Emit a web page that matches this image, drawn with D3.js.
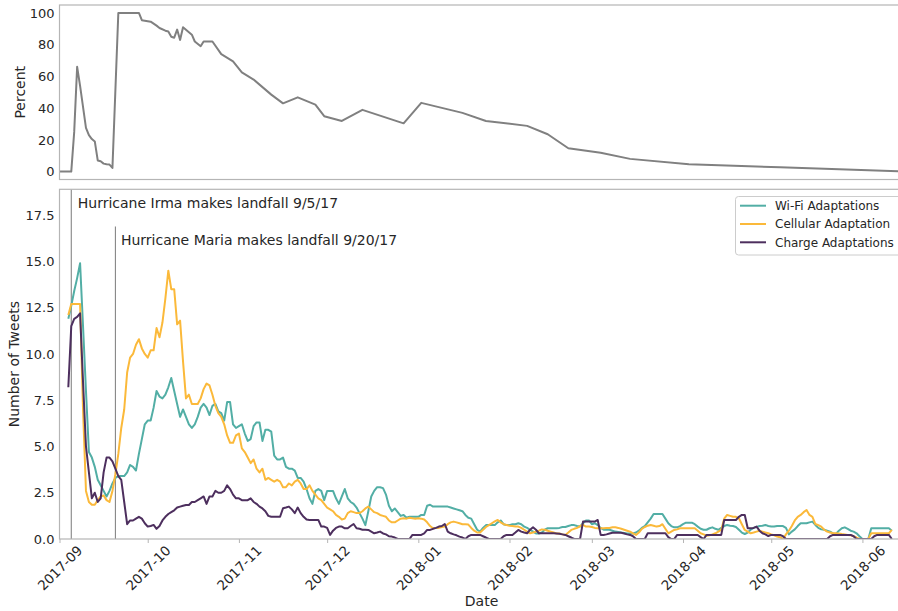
<!DOCTYPE html>
<html>
<head>
<meta charset="utf-8">
<script src="https://cdn.jsdelivr.net/npm/d3@7"></script>
<style>
  html, body { margin: 0; padding: 0; background: #fff; }
  svg { display: block; font-family: "DejaVu Sans", sans-serif; }
</style>
</head>
<body>
<svg id="chart" width="898" height="611"></svg>
<script>
// ---- Percent series (top panel) ----
const percentDates = ["2017-09-01","2017-09-05","2017-09-06","2017-09-07","2017-09-08","2017-09-10","2017-09-11","2017-09-12","2017-09-13","2017-09-14",
  "2017-09-15","2017-09-16","2017-09-17","2017-09-18","2017-09-19","2017-09-21","2017-09-28","2017-09-29","2017-10-02","2017-10-04",
  "2017-10-05","2017-10-07","2017-10-08","2017-10-09","2017-10-10","2017-10-11","2017-10-12","2017-10-13","2017-10-16","2017-10-17",
  "2017-10-19","2017-10-20","2017-10-23","2017-10-26","2017-10-30","2017-11-02","2017-11-06","2017-11-12","2017-11-16","2017-11-21",
  "2017-11-27","2017-11-30","2017-12-06","2017-12-13","2017-12-27","2018-01-02","2018-01-16","2018-01-24","2018-02-07","2018-02-14",
  "2018-02-21","2018-03-04","2018-03-14","2018-04-03","2018-05-04","2018-06-14"];
const percentValues = [0,0,25,66,54,27.5,23,20.5,19,7,
  6.5,5,4.6,4.4,2.3,100,100,95.4,94.5,92,
  90.5,88.8,88.3,85,84.4,89.5,83,91,86.3,82,
  79,82,82,74,69.5,62.5,58,48.5,43,46.8,
  42.2,34.9,31.9,38.9,30.4,43.3,37,31.9,28.8,23.5,
  14.7,11.8,8,4.6,2.7,0.1];

// ---- Daily tweet counts (bottom panel), one value per day from tweetStart ----
const tweetStart = "2017-09-04";
const wifiValues = [
  11.9, 12.6, 13.4, 14.1, 14.9, 11.5, 8.0, 4.7, 4.4, 3.9,
  3.2, 2.9, 2.6, 2.3, 2.6, 3.0, 3.3, 3.4, 3.4, 3.4,
  3.6, 4.0, 3.9, 3.7, 4.6, 5.4, 6.2, 6.4, 6.4, 7.1,
  8.0, 7.7, 7.6, 7.8, 8.2, 8.7, 8.0, 7.3, 6.6, 7.0,
  6.6, 6.2, 6.0, 6.2, 6.6, 7.1, 7.3, 7.1, 6.7, 7.2,
  7.3, 6.9, 6.8, 6.4, 7.4, 7.4, 6.2, 6.0, 6.1, 6.2,
  5.7, 5.3, 5.4, 6.1, 6.3, 6.3, 5.3, 5.9, 5.9, 5.8,
  4.5, 4.3, 4.3, 4.4, 3.9, 3.8, 3.8, 3.7, 3.3, 3.3,
  3.1, 2.7, 2.2, 1.9, 2.6, 2.7, 2.6, 2.1, 2.6, 2.6,
  2.6, 2.2, 1.9, 2.3, 2.7, 2.2, 2.0, 1.9, 1.7, 1.4,
  1.1, 0.75, 1.5, 2.3, 2.6, 2.8, 2.8, 2.75, 2.4, 1.8,
  1.5, 1.65, 1.45, 1.25, 1.3, 1.15, 1.2, 1.2, 1.2, 1.2,
  1.3, 1.3, 1.8, 1.85, 1.75, 1.75, 1.75, 1.75, 1.75, 1.75,
  1.7, 1.65, 1.6, 1.55, 1.5, 1.3, 1.15, 1.1, 0.8, 0.5,
  0.4, 0.6, 0.75, 0.75, 0.75, 0.75, 0.9, 1.0, 0.8, 0.75,
  0.75, 0.8, 0.8, 0.85, 0.8, 0.67, 0.6, 0.5, 0.4, 0.3,
  0.3, 0.35, 0.5, 0.58, 0.58, 0.58, 0.58, 0.6, 0.65, 0.65,
  0.7, 0.75, 0.75, 0.7, 0.67, 0.85, 1.0, 1.0, 0.8, 0.85,
  0.75, 0.6, 0.5, 0.5, 0.5, 0.45, 0.4, 0.38, 0.35, 0.33,
  0.3, 0.3, 0.3, 0.35, 0.45, 0.6, 0.7, 0.9, 1.1, 1.35,
  1.35, 1.35, 1.35, 1.1, 0.85, 0.7, 0.63, 0.63, 0.7, 0.8,
  0.88, 0.88, 0.88, 0.8, 0.67, 0.55, 0.5, 0.5, 0.58, 0.63,
  0.55, 0.5, 0.6, 0.7, 0.76, 0.72, 0.7, 0.65, 0.5, 0.35,
  0.27, 0.35, 0.5, 0.6, 0.65, 0.7, 0.72, 0.76, 0.7, 0.67,
  0.67, 0.7, 0.7, 0.7, 0.6, 0.25, 0.4, 0.52, 0.7, 0.85,
  0.85, 0.85, 0.9, 0.94, 0.76, 0.6, 0.52, 0.5, 0.45, 0.4,
  0.3, 0.27, 0.45, 0.58, 0.63, 0.55, 0.45, 0.4, 0.31, 0.15,
  0, 0, 0, 0.58, 0.58, 0.58, 0.58, 0.58, 0.58, 0.58, 0.45
];
const cellularValues = [
  12.1, 12.7, 12.7, 12.7, 12.7, 7.0, 2.6, 2.0, 1.85, 1.85,
  2.1, 2.3, 2.35, 2.1, 2.0, 2.6, 3.5, 4.6, 6.0, 7.0,
  9.0, 9.8, 10.0, 10.5, 10.8, 10.3, 10.0, 9.8, 10.2, 10.2,
  11.4, 10.9, 11.7, 13.0, 14.5, 13.5, 13.5, 11.6, 11.8, 9.6,
  7.6, 7.8, 7.3, 7.3, 7.3, 7.6, 8.1, 8.4, 8.3, 7.8,
  7.2, 6.8, 6.6, 6.2, 5.6, 5.2, 5.2, 5.6, 5.7, 4.9,
  4.7, 4.4, 4.1, 4.3, 3.8, 3.6, 3.8, 3.2, 3.3, 3.2,
  3.1, 3.2, 3.1, 2.8, 2.8, 3.0, 2.9, 3.1, 3.2, 3.0,
  2.7, 2.7, 2.9, 2.6, 2.4, 2.2, 2.1, 1.9, 1.7, 1.6,
  1.5, 1.3, 1.2, 1.05, 1.1, 1.4, 1.5, 1.45, 1.4, 1.4,
  1.5, 1.65, 1.75, 1.6, 1.45, 1.4, 1.3, 1.25, 1.2, 1.0,
  0.9, 0.9, 1.0, 1.1, 1.12, 1.1, 1.15, 1.12, 1.1, 1.12,
  1.1, 1.05, 0.9, 0.7, 0.58, 0.6, 0.6, 0.65, 0.67, 0.8,
  0.9, 0.94, 0.9, 0.85, 0.8, 0.8, 0.78, 0.6, 0.45, 0.35,
  0.35, 0.5, 0.65, 0.75, 0.85, 0.95, 1.03, 0.9, 0.8, 0.76,
  0.72, 0.7, 0.67, 0.67, 0.6, 0.5, 0.4, 0.31, 0.35, 0.4,
  0.45, 0.52, 0.5, 0.45, 0.4, 0.35, 0.3, 0.3, 0.25, 0.22,
  0.35, 0.49, 0.55, 0.6, 0.7, 0.76, 0.67, 0.67, 0.65, 0.6,
  0.58, 0.58, 0.58, 0.6, 0.6, 0.63, 0.63, 0.6, 0.55, 0.5,
  0.45, 0.4, 0.3, 0.22, 0.35, 0.55, 0.65, 0.72, 0.76, 0.72,
  0.67, 0.7, 0.8, 0.55, 0.31, 0.4, 0.49, 0.52, 0.58, 0.58,
  0.58, 0.58, 0.58, 0.58, 0.45, 0.31, 0.25, 0.18, 0.2, 0.25,
  0.31, 0.4, 0.49, 1.1, 1.3, 1.25, 1.2, 1.2, 1.12, 0.8,
  0.49, 0.4, 0.31, 0.35, 0.4, 0.45, 0.4, 0.35, 0.31, 0.25,
  0.2, 0.13, 0.1, 0, 0.25, 0.45, 0.7, 1.0, 1.2, 1.3,
  1.45, 1.57, 1.3, 1.2, 0.81, 0.75, 0.67, 0.5, 0.4, 0.35,
  0.31, 0.31, 0.3, 0.27, 0.25, 0.22, 0.2, 0.15, 0.08, 0,
  0, 0, 0, 0.31, 0.31, 0.31, 0.31, 0.31, 0.31, 0.31, 0.49
];
const chargeValues = [
  8.2, 11.5, 11.9, 12.0, 12.2, 8.5, 5.0, 3.6, 2.2, 2.5,
  2.0, 2.2, 3.6, 4.4, 4.4, 4.2, 3.8, 3.4, 3.2, 2.0,
  0.8, 1.0, 1.0, 1.1, 1.2, 1.1, 0.85, 0.67, 0.7, 0.76,
  0.55, 0.7, 1.0, 1.2, 1.35, 1.45, 1.55, 1.7, 1.75, 1.8,
  1.84, 1.84, 2.0, 2.0, 2.1, 2.2, 2.3, 1.9, 2.3, 2.3,
  2.6, 2.5, 2.5, 2.6, 2.9, 2.7, 2.4, 2.2, 2.2, 2.1,
  2.1, 2.1, 2.2, 2.0, 1.9, 1.75, 1.65, 1.5, 1.25, 1.2,
  1.2, 1.2, 1.2, 1.66, 1.7, 1.75, 1.6, 1.4, 1.7, 1.4,
  1.2, 1.05, 1.03, 1.03, 1.03, 1.03, 0.67, 0.67, 0.6, 0.22,
  0.45, 0.6, 0.67, 0.67, 0.58, 0.58, 0.7, 0.81, 0.58, 0.55,
  0.5, 0.5, 0.49, 0.4, 0.31, 0.35, 0.4, 0.3, 0.25, 0.15,
  0.13, 0.08, 0, 0, 0, 0, 0, 0.22, 0.22, 0.22,
  0.22, 0.3, 0.49, 0.49, 0.55, 0.6, 0.67, 0.7, 0.81, 0.4,
  0.31, 0.25, 0.2, 0.13, 0.08, 0, 0.15, 0.22, 0.22, 0.22,
  0.22, 0.15, 0.08, 0, 0, 0, 0, 0, 0.15, 0.22,
  0.22, 0.22, 0.35, 0.49, 0.4, 0.35, 0.31, 0.5, 0.63, 0.5,
  0.31, 0.31, 0.31, 0.31, 0.31, 0.31, 0.3, 0.28, 0.25, 0.22,
  0.15, 0.08, 0, 0, 0, 0.94, 0.94, 0.94, 0.94, 0.94,
  1.03, 0.22, 0.22, 0.25, 0.3, 0.34, 0.34, 0.34, 0.34, 0.3,
  0.25, 0.22, 0.15, 0, 0, 0, 0, 0.31, 0.31, 0.31,
  0.31, 0.31, 0.31, 0.31, 0.1, 0, 0, 0.22, 0.22, 0.22,
  0.22, 0.22, 0.22, 0.22, 0.22, 0.1, 0, 0.22, 0.22, 0.22,
  0.22, 0.22, 0.22, 1.03, 1.03, 1.03, 1.03, 1.03, 1.2, 1.3,
  1.3, 0.58, 0.58, 0.6, 0.67, 0.45, 0.31, 0.25, 0.16, 0.22,
  0.22, 0.22, 0.22, 0.15, 0, 0, 0, 0, 0, 0,
  0, 0, 0, 0, 0, 0, 0, 0, 0, 0.15,
  0.22, 0.22, 0.22, 0.22, 0.22, 0.22, 0.22, 0.15, 0, 0,
  0, 0, 0, 0, 0.15, 0.22, 0.22, 0.22, 0.22, 0.22, 0
];

const seriesNames  = ["Wi-Fi Adaptations", "Cellular Adaptation", "Charge Adaptations"];
const seriesColors = ["#52aea5", "#fbb93a", "#4d2f5e"];

// ---- Ticks, labels and event markers ----
const percentTicks = [0, 20, 40, 60, 80, 100];
const tweetTicks   = [0, 2.5, 5, 7.5, 10, 12.5, 15, 17.5];
const monthTicks   = ["2017-09","2017-10","2017-11","2017-12","2018-01","2018-02","2018-03","2018-04","2018-05","2018-06"];
const eventDates   = ["2017-09-05", "2017-09-20"];
const eventLabels  = ["Hurricane Irma makes landfall 9/5/17", "Hurricane Maria makes landfall 9/20/17"];

// ---- Layout ----
const left = 59.5, right = 903.6;
const topPanel = { top: 5, bottom: 179.5 };
const botPanel = { top: 189.3, bottom: 539 };
const textColor = "#262626";
const spineColor = "#b5b5b5";

const parseDay = d3.utcParse("%Y-%m-%d");
const parseMonth = d3.utcParse("%Y-%m");

const svg = d3.select("#chart");

const x = d3.scaleUtc()
  .domain([Date.UTC(2017, 8, 1), Date.UTC(2018, 5, 15)])
  .range([left, right]);

const yPct = d3.scaleLinear().domain([-5, 105]).range([topPanel.bottom, topPanel.top]);
const yTw  = d3.scaleLinear().domain([0, 18.9]).range([botPanel.bottom, botPanel.top]);

// clip regions for each panel
const defs = svg.append("defs");
defs.append("clipPath").attr("id", "clipTop").append("rect")
  .attr("x", left).attr("y", topPanel.top)
  .attr("width", right - left).attr("height", topPanel.bottom - topPanel.top);
defs.append("clipPath").attr("id", "clipBot").append("rect")
  .attr("x", left).attr("y", botPanel.top)
  .attr("width", right - left).attr("height", botPanel.bottom - botPanel.top);

// ---------- Top panel ----------
const gTop = svg.append("g");
const pctData = percentDates.map((d, i) => ({ date: parseDay(d), v: percentValues[i] }));

gTop.append("path")
  .datum(pctData)
  .attr("clip-path", "url(#clipTop)")
  .attr("fill", "none")
  .attr("stroke", "#808080")
  .attr("stroke-width", 2)
  .attr("stroke-linejoin", "round")
  .attr("d", d3.line().x(d => x(d.date)).y(d => yPct(d.v)));

const yAxisTop = d3.axisLeft(yPct).tickValues(percentTicks).tickSize(0).tickPadding(5).tickFormat(d3.format("d"));
const gyTop = gTop.append("g").attr("transform", `translate(${left},0)`).call(yAxisTop);
gyTop.select(".domain").remove();
gyTop.selectAll("text").attr("font-size", 13).attr("fill", textColor).attr("font-family", "DejaVu Sans");

// frame of the top panel
gTop.append("rect")
  .attr("x", left).attr("y", topPanel.top)
  .attr("width", right - left).attr("height", topPanel.bottom - topPanel.top)
  .attr("fill", "none").attr("stroke", spineColor).attr("stroke-width", 1.2);

gTop.append("text")
  .attr("transform", `translate(20,${(topPanel.top + topPanel.bottom) / 2}) rotate(-90)`)
  .attr("text-anchor", "middle")
  .attr("dy", "0.35em")
  .attr("font-size", 14)
  .attr("fill", textColor)
  .text("Percent");

// ---------- Bottom panel ----------
const gBot = svg.append("g");

// hurricane landfall markers
const irmaX = x(parseDay(eventDates[0]));
const mariaX = x(parseDay(eventDates[1]));
gBot.append("line")
  .attr("x1", irmaX).attr("x2", irmaX)
  .attr("y1", botPanel.top).attr("y2", botPanel.bottom)
  .attr("stroke", "#7a7a7a").attr("stroke-width", 1);
gBot.append("line")
  .attr("x1", mariaX).attr("x2", mariaX)
  .attr("y1", 226.5).attr("y2", botPanel.bottom)
  .attr("stroke", "#7a7a7a").attr("stroke-width", 1);

gBot.append("text")
  .attr("x", irmaX + 6.5).attr("y", 208)
  .attr("font-size", 14).attr("fill", textColor)
  .text(eventLabels[0]);
gBot.append("text")
  .attr("x", mariaX + 5.5).attr("y", 245)
  .attr("font-size", 14).attr("fill", textColor)
  .text(eventLabels[1]);

// series lines
const start = parseDay(tweetStart);
const allSeries = [wifiValues, cellularValues, chargeValues].map((vals, k) => ({
  name: seriesNames[k],
  color: seriesColors[k],
  points: vals.map((v, i) => ({ date: d3.utcDay.offset(start, i), v }))
}));

const tweetLine = d3.line().x(d => x(d.date)).y(d => yTw(d.v));
gBot.selectAll("path.series")
  .data(allSeries)
  .join("path")
  .attr("class", "series")
  .attr("clip-path", "url(#clipBot)")
  .attr("fill", "none")
  .attr("stroke", d => d.color)
  .attr("stroke-width", 2)
  .attr("stroke-linejoin", "round")
  .attr("d", d => tweetLine(d.points));

// y axis
const yAxisBot = d3.axisLeft(yTw).tickValues(tweetTicks).tickSize(0).tickPadding(5).tickFormat(d3.format(".1f"));
const gyBot = gBot.append("g").attr("transform", `translate(${left},0)`).call(yAxisBot);
gyBot.select(".domain").remove();
gyBot.selectAll("text").attr("font-size", 13).attr("fill", textColor).attr("font-family", "DejaVu Sans");

// x axis: month labels rotated 45 degrees, centred under each tick
const monthDates = monthTicks.map(parseMonth);
const xAxis = d3.axisBottom(x).tickValues(monthDates).tickSize(4).tickFormat(d3.utcFormat("%Y-%m"));
const gx = gBot.append("g").attr("transform", `translate(0,${botPanel.bottom})`).call(xAxis);
gx.select(".domain").remove();
gx.selectAll(".tick line").attr("stroke", spineColor).attr("stroke-width", 1);
gx.selectAll("text")
  .attr("font-size", 13.5).attr("fill", textColor).attr("font-family", "DejaVu Sans")
  .attr("text-anchor", "middle")
  .attr("y", 0)
  .attr("dy", "0.35em")
  .attr("transform", "translate(0,29) rotate(-45)");

// frame of the bottom panel
gBot.append("rect")
  .attr("x", left).attr("y", botPanel.top)
  .attr("width", right - left).attr("height", botPanel.bottom - botPanel.top)
  .attr("fill", "none").attr("stroke", spineColor).attr("stroke-width", 1.2);

gBot.append("text")
  .attr("transform", `translate(14,${(botPanel.top + botPanel.bottom) / 2}) rotate(-90)`)
  .attr("text-anchor", "middle")
  .attr("dy", "0.35em")
  .attr("font-size", 14)
  .attr("fill", textColor)
  .text("Number of Tweets");

gBot.append("text")
  .attr("x", (left + right) / 2).attr("y", 606)
  .attr("text-anchor", "middle")
  .attr("font-size", 14)
  .attr("fill", textColor)
  .text("Date");

// legend
const legend = gBot.append("g").attr("transform", "translate(735.5,196.5)");
legend.append("rect")
  .attr("width", 175).attr("height", 58.5).attr("rx", 3)
  .attr("fill", "#fff").attr("fill-opacity", 0.85)
  .attr("stroke", "#cccccc").attr("stroke-width", 1);
const rows = legend.selectAll("g.row").data(allSeries).join("g")
  .attr("class", "row")
  .attr("transform", (d, i) => `translate(0,${9.2 + i * 18.3})`);
rows.append("line")
  .attr("x1", 4.5).attr("x2", 30.5)
  .attr("stroke", d => d.color).attr("stroke-width", 2);
rows.append("text")
  .attr("x", 39.5).attr("dy", "0.35em")
  .attr("font-size", 12).attr("fill", textColor)
  .text(d => d.name);
</script>
</body>
</html>
